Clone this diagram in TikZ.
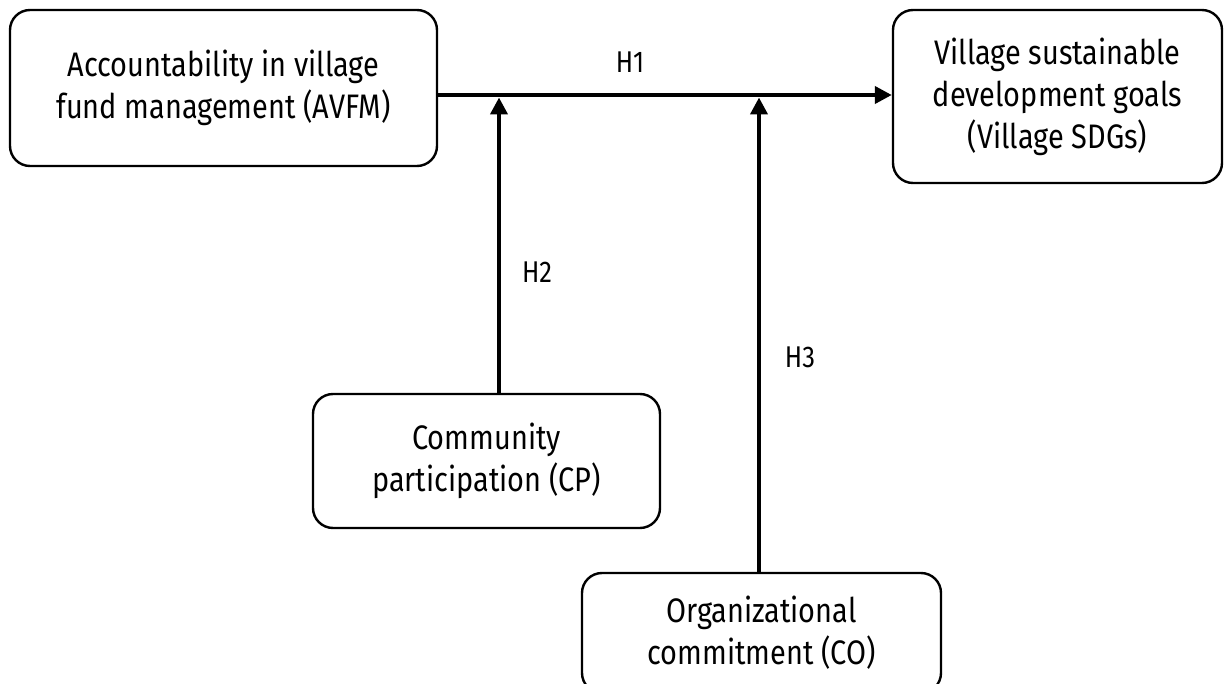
\documentclass[tikz,border=0pt]{standalone}
\usepackage{fontspec}
\setmainfont{Fira Sans}[FakeStretch=0.85]
\usetikzlibrary{arrows.meta}
\tikzset{
  box/.style={draw, line width=2.4pt, rounded corners=20pt, align=center, inner sep=0pt,
    font=\fontsize{34}{42}\selectfont},
  arr/.style={line width=4pt, -{Triangle[length=17pt,width=17pt]}},
  lbl/.style={font=\fontsize{30}{36}\selectfont, inner sep=0pt}
}
\begin{document}
\begin{tikzpicture}[x=1pt,y=-1pt]
\useasboundingbox (0,0) rectangle (1227,684);
\node[box, minimum width=427pt, minimum height=156pt] (avfm) at (223.5,88) {Accountability in village\\fund management (AVFM)};
\node[box, minimum width=329pt, minimum height=173pt] (sdg) at (1057.5,96.5) {Village sustainable\\development goals\\(Village SDGs)};
\node[box, minimum width=347pt, minimum height=134pt] (cp) at (486.5,461) {Community\\participation (CP)};
\node[box, minimum width=359pt, minimum height=120pt] (co) at (761.5,633) {Organizational\\commitment (CO)};
\coordinate (j) at (0,95);
\coordinate (m1) at (499,97.5);
\coordinate (m2) at (759,97.5);
\draw[arr] (avfm.east |- j) -- (sdg.west |- j);
\draw[arr] (cp.north -| m1) -- (m1);
\draw[arr] (co.north -| m2) -- (m2);
\node[lbl] (h1) at (630,62) {H1};
\node[lbl] (h2) at (537,272) {H2};
\node[lbl] (h3) at (800,357) {H3};
\end{tikzpicture}
\end{document}
